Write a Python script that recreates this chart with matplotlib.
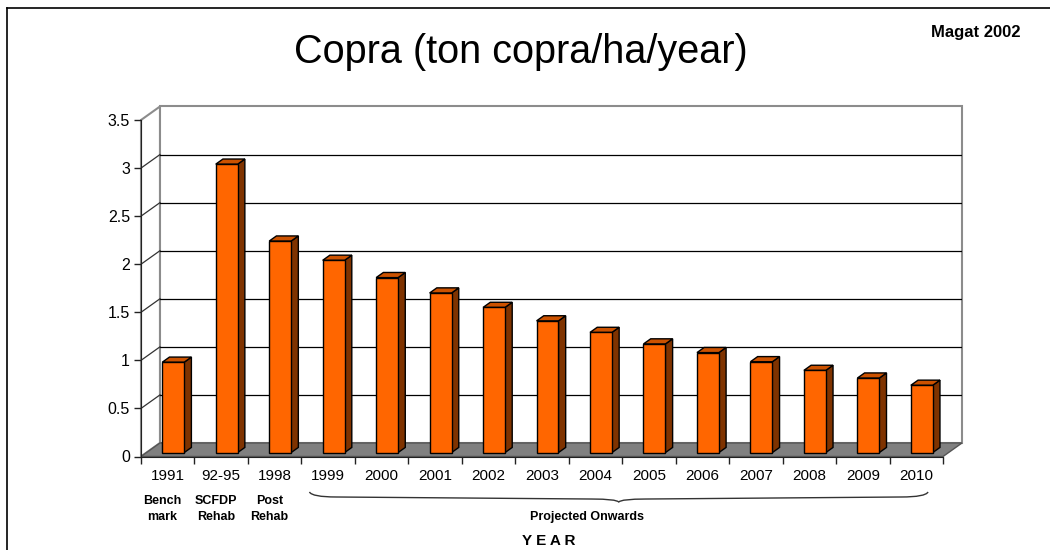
import numpy as np
import matplotlib
matplotlib.use("Agg")
import matplotlib.pyplot as plt
from matplotlib.patches import Polygon, PathPatch
from matplotlib.path import Path
from matplotlib.lines import Line2D

plt.rcParams['font.family'] = ['Liberation Sans', 'DejaVu Sans']

# data
years = ['1991', '92-95', '1998', '1999', '2000', '2001', '2002', '2003',
         '2004', '2005', '2006', '2007', '2008', '2009', '2010']
copra = [0.94, 3.0, 2.2, 2.0, 1.82, 1.66, 1.51, 1.37, 1.25, 1.13, 1.04,
         0.945, 0.855, 0.775, 0.70]
sub_labels = ['Bench\nmark', 'SCFDP\nRehab', 'Post\nRehab']
yticks = [0, 0.5, 1, 1.5, 2, 2.5, 3, 3.5]

# fake 3d geometry (category units / value units)
DX, DY = 0.3545, 0.1406
T0, T1 = 0.29, 0.67
W = 0.41
n = len(years)
ymax = 3.5

fig = plt.figure(figsize=(10.5, 5.5), dpi=100)
ax = fig.add_axes([141 / 1050, (550 - 456.5) / 550, 821 / 1050, 350 / 550])
ax.set_xlim(0, n + DX)
ax.set_ylim(0, ymax + DY)
ax.patch.set_alpha(0)

# back wall
ax.add_patch(Polygon([(DX, DY), (n + DX, DY), (n + DX, ymax + DY), (DX, ymax + DY)],
                     closed=True, fc='white', ec='#8c8c8c', lw=1.5, zorder=0.5,
                     clip_on=False))
# left wall
ax.add_patch(Polygon([(0, 0), (DX, DY), (DX, ymax + DY), (0, ymax)],
                     closed=True, fc='white', ec='#8c8c8c', lw=1.5, zorder=0.5,
                     clip_on=False))
for t in yticks[1:-1]:
    ax.plot([DX, n + DX], [t + DY, t + DY], color='black', lw=0.9, zorder=0.6)
    ax.plot([0, DX], [t, t + DY], color='#333333', lw=0.9, zorder=0.6)

# floor
ax.add_patch(Polygon([(0, 0), (n, 0), (n + DX, DY), (DX, DY)],
                     closed=True, fc='#808080', ec='#555555', lw=1.0, zorder=1,
                     clip_on=False))

# bars
xpos = np.arange(n) + 0.5
ax.bar(xpos + T0 * DX, copra, width=W, bottom=T0 * DY, color='#ff6600',
       edgecolor='black', lw=1.0, zorder=3)
ddx, ddy = (T1 - T0) * DX, (T1 - T0) * DY
for x, v in zip(xpos, copra):
    xl = x + T0 * DX - W / 2
    xr = x + T0 * DX + W / 2
    b = T0 * DY
    top = v + T0 * DY
    ax.add_patch(Polygon([(xr, b), (xr + ddx, b + ddy), (xr + ddx, top + ddy), (xr, top)],
                         closed=True, fc='#7f3300', ec='black', lw=1.0, zorder=2.5))
    ax.add_patch(Polygon([(xl, top), (xr, top), (xr + ddx, top + ddy), (xl + ddx, top + ddy)],
                         closed=True, fc='#cc5200', ec='black', lw=1.0, zorder=2.5))

# axes
for s in ['top', 'right']:
    ax.spines[s].set_visible(False)
ax.spines['left'].set_bounds(0, ymax)
ax.spines['bottom'].set_bounds(0, n)
ax.spines['left'].set_color('#222222')
ax.spines['bottom'].set_color('#222222')
ax.spines['left'].set_zorder(4)
ax.spines['bottom'].set_zorder(4)
ax.set_yticks(yticks)
ax.set_yticklabels([('%g' % t) for t in yticks], fontsize=11.5)
ax.tick_params(axis='y', length=5, width=1, pad=3, color='#222222')
ax.set_xticks(np.arange(n + 1))
ax.set_xticklabels([])
ax.set_xticks(xpos, minor=True)
ax.set_xticklabels(years, minor=True, fontsize=11)
ax.tick_params(axis='x', which='major', length=5, width=1, color='#222222')
ax.tick_params(axis='x', which='minor', length=0, pad=9)

# sub labels under first categories
tr = ax.get_xaxis_transform()
for x, lab in zip(xpos, sub_labels):
    ax.text(x - 0.1, -0.15, lab, transform=tr, ha='center', va='center',
            fontsize=9, fontweight='bold', linespacing=1.35)

# brace over projected years
x0, x1 = 3.15, 14.72
xm = (x0 + x1) / 2
ye, yl, yl2, yt = -0.1014, -0.1157, -0.1215, -0.130
verts = [(x0, ye), (x0 + 0.05, yl), (x0 + 0.5, yl),
         (xm - 0.5, yl2), (xm - 0.05, yl2), (xm, yt),
         (xm + 0.05, yl2), (xm + 0.5, yl2),
         (x1 - 0.5, yl), (x1 - 0.05, yl), (x1, ye)]
codes = [Path.MOVETO, Path.CURVE3, Path.CURVE3,
         Path.LINETO, Path.CURVE3, Path.CURVE3,
         Path.CURVE3, Path.CURVE3,
         Path.LINETO, Path.CURVE3, Path.CURVE3]
ax.add_patch(PathPatch(Path(verts, codes), transform=tr, fc='none', ec='#333333',
                       lw=1.0, clip_on=False))
ax.text(8.35, -0.173, 'Projected Onwards', transform=tr, ha='center', va='center',
        fontsize=9, fontweight='bold')

fig.text(549 / 1050, 1 - 541 / 550, 'Y E A R', ha='center', va='center',
         fontsize=11, fontweight='bold')
fig.text(521 / 1050, 1 - 63 / 550, 'Copra (ton copra/ha/year)', ha='center',
         va='baseline', fontsize=28.5)
fig.text(976 / 1050, 1 - 33 / 550, 'Magat 2002', ha='center', va='center',
         fontsize=12, fontweight='bold')

# outer frame (left and top edges visible)
fig.add_artist(Line2D([7 / 1050, 7 / 1050], [0, 1 - 8 / 550], transform=fig.transFigure,
                      color='black', lw=1.2))
fig.add_artist(Line2D([7 / 1050, 1], [1 - 8 / 550, 1 - 8 / 550], transform=fig.transFigure,
                      color='black', lw=1.2))

fig.savefig('out.png', dpi=100)
